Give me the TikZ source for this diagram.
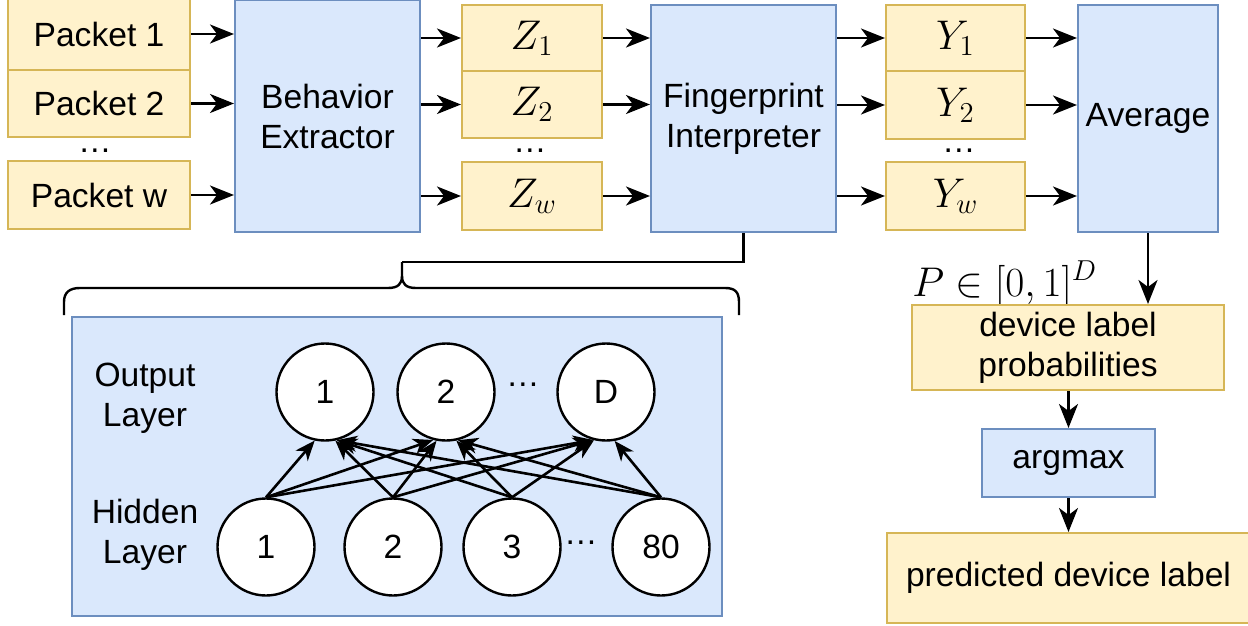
\documentclass[tikz,border=0pt]{standalone}
\usepackage[no-math]{fontspec}
\newfontfamily\sansf{Liberation Sans}
\usetikzlibrary{arrows.meta}
\definecolor{yfill}{HTML}{FFF2CC}
\definecolor{ystroke}{HTML}{D6B656}
\definecolor{bfill}{HTML}{DAE8FC}
\definecolor{bstroke}{HTML}{6C8EBF}
\begin{document}
\begin{tikzpicture}[x=0.5pt,y=-0.5pt,
  txt/.style={font=\sansf\fontsize{16.8}{20}\selectfont},
  ybox/.style={draw=ystroke,fill=yfill,line width=1pt,inner sep=0pt,txt,align=center},
  bbox/.style={draw=bstroke,fill=bfill,line width=1pt,inner sep=0pt,txt,align=center},
  neuron/.style={circle,draw=black,fill=white,line width=1.2pt,minimum size=48.5pt,inner sep=0pt,txt},
  arr/.style={line width=1.4pt,-{Stealth[length=12pt,width=9.5pt,inset=3.5pt]}},
  nnarr/.style={line width=1.3pt,-{Stealth[length=10pt,width=8pt,inset=3pt]}},
  brace/.style={line width=1.2pt},
  dots/.style={txt,inner sep=0pt},
]
\useasboundingbox (0,0) rectangle (1248,626);

% packets
\node[ybox,minimum width=91pt,minimum height=36pt] (p1) at (99,34) {Packet 1};
\node[ybox,minimum width=91pt,minimum height=33.5pt] (p2) at (99,103.5) {Packet 2};
\node[dots] (pd) at (95,151) {…};
\node[ybox,minimum width=91pt,minimum height=34pt] (pw) at (99,195) {Packet w};

\node[bbox,minimum width=92.5pt,minimum height=116pt] (BE) at (327.5,116) {Behavior\\Extractor};

% Z
\node[ybox,minimum width=70pt,minimum height=33pt] (z1) at (532,38) {\fontsize{21}{25}\selectfont$Z_1$};
\node[ybox,minimum width=70pt,minimum height=33.5pt] (z2) at (532,104.5) {\fontsize{21}{25}\selectfont$Z_2$};
\node[dots] (zd) at (530,151) {…};
\node[ybox,minimum width=70pt,minimum height=34pt] (zw) at (532,196) {\fontsize{21}{25}\selectfont$Z_w$};

\node[bbox,minimum width=92.5pt,minimum height=113.5pt] (FI) at (743.5,118.5) {Fingerprint\\Interpreter};

% Y
\node[ybox,minimum width=69.5pt,minimum height=33pt] (y1) at (955.5,38) {\fontsize{21}{25}\selectfont$Y_1$};
\node[ybox,minimum width=69.5pt,minimum height=34pt] (y2) at (955.5,105) {\fontsize{21}{25}\selectfont$Y_2$};
\node[dots] (yd) at (959,151) {…};
\node[ybox,minimum width=69.5pt,minimum height=34pt] (yw) at (955.5,196) {\fontsize{21}{25}\selectfont$Y_w$};

\node[bbox,minimum width=70pt,minimum height=113.5pt] (avg) at (1148,118.5) {\raisebox{-2pt}{Average}};

% right column
\node[anchor=base west,inner sep=0pt,font=\fontsize{20}{24}\selectfont] (plab) at (912,296) {$P\in[0,1]^D$};
\node[ybox,minimum width=156pt,minimum height=42.5pt] (dlp) at (1068,347.5) {device label\\probabilities};
\node[bbox,minimum width=86.5pt,minimum height=34pt] (am) at (1068.5,463) {argmax};
\node[ybox,minimum width=181.5pt,minimum height=45pt] (pred) at (1068.5,578) {predicted device label};

% arrows top row
\foreach \s/\t in {p1/BE,p2/BE,pw/BE}{\draw[arr] (\s.east) -- (\s.east -| \t.west);}
\foreach \s in {z1,z2,zw}{\draw[arr] (BE.east |- \s) -- (\s.west);}
\foreach \s in {z1,z2,zw}{\draw[arr] (\s.east) -- (\s.east -| FI.west);}
\foreach \s in {y1,y2,yw}{\draw[arr] (FI.east |- \s) -- (\s.west);}
\foreach \s in {y1,y2,yw}{\draw[arr] (\s.east) -- (\s.east -| avg.west);}
\draw[arr] (avg.south) -- (avg.south |- dlp.north);
\draw[arr] (dlp.south -| am.north) -- (am.north);
\draw[arr] (am.south) -- (am.south |- pred.north);

% neural net panel
\node[bbox,minimum width=325pt,minimum height=149.5pt] (nn) at (397,466.5) {};
\node[txt,align=center,inner sep=0pt] (olab) at (145,398) {Output\\Layer};
\node[txt,align=center,inner sep=0pt] (hlab) at (145,535) {Hidden\\Layer};
\node[neuron] (o1) at (325,392) {1};
\node[neuron] (o2) at (446,392) {2};
\node[neuron] (o3) at (606,392) {D};
\node[dots] (od) at (523,385) {…};
\node[neuron] (h1) at (266,547) {1};
\node[neuron] (h2) at (393,547) {2};
\node[neuron] (h3) at (512,547) {3};
\node[neuron] (h4) at (661,547) {80};
\node[dots] (hd) at (581,543) {…};
\foreach \h/\hx in {h1/266,h2/393,h3/512,h4/661}{
  \foreach \o/\ox in {o1/325,o2/446,o3/606}{
    \pgfmathsetmacro{\ang}{270+15*tanh((\hx-\ox)/60)}
    \draw[nnarr] (\h.north) -- (\o.\ang);
  }
}

% brace
\coordinate (peak) at (402,262);
\draw[brace] (64,315) -- (64,302) .. controls (64,292) and (70,288) .. (80,288) -- (388,288) .. controls (398,288) and (402,284) .. (402,276) -- (peak);
\draw[brace] (402,276) .. controls (402,284) and (406,288) .. (416,288) -- (725,288) .. controls (735,288) and (739,292) .. (739,302) -- (739,315);
\draw[brace] (FI.south) |- (peak);
\end{tikzpicture}
\end{document}
